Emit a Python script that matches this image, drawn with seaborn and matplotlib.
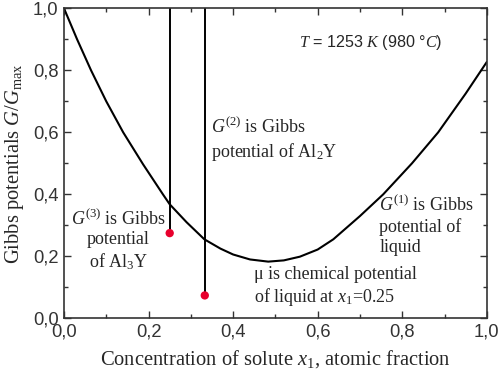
import seaborn as sns
import matplotlib.pyplot as plt
import matplotlib.ticker as mticker
import pandas as pd

# Gibbs potential of liquid
x_liquid = [0.0, 0.031, 0.064, 0.1, 0.14, 0.187, 0.234, 0.25, 0.29, 0.332, 0.37,
            0.40, 0.44, 0.483, 0.52, 0.558, 0.6, 0.637, 0.7, 0.755, 0.823, 0.885,
            0.95, 1.0]
g_liquid = [1.0, 0.9, 0.8, 0.70, 0.60, 0.497, 0.40, 0.368, 0.31, 0.255, 0.225,
            0.206, 0.19, 0.183, 0.187, 0.199, 0.222, 0.255, 0.33, 0.40, 0.50, 0.60,
            0.725, 0.827]

# intermetallic compounds (Al3Y, Al2Y)
x_compound = [0.25, 0.333]
g_compound = [0.275, 0.074]

df_liq = pd.DataFrame({"x": x_liquid, "g": g_liquid})
df_cmp = pd.DataFrame({"x": x_compound, "g": g_compound})

sns.set_style("ticks")
plt.rcParams["font.family"] = ["Liberation Serif", "DejaVu Serif"]
plt.rcParams["mathtext.fontset"] = "custom"
plt.rcParams["mathtext.rm"] = "Liberation Serif"
plt.rcParams["mathtext.it"] = "Liberation Serif:italic"
plt.rcParams["mathtext.bf"] = "Liberation Serif:bold"

fig = plt.figure(figsize=(4.98, 3.79), dpi=100)
ax = fig.add_axes([0.1285, 0.160, 0.849, 0.818])

sns.lineplot(data=df_liq, x="x", y="g", color="black", linewidth=1.5, ax=ax)
ax.vlines(df_cmp["x"], df_cmp["g"], 1.0, color="black", linewidth=1.4)
sns.scatterplot(data=df_cmp, x="x", y="g", color="#e8002d", s=36,
                edgecolor="none", zorder=5, ax=ax)

ax.set_xlim(0, 1)
ax.set_ylim(0, 1)
ax.xaxis.set_major_locator(mticker.MultipleLocator(0.2))
ax.yaxis.set_major_locator(mticker.MultipleLocator(0.2))
ax.xaxis.set_minor_locator(mticker.MultipleLocator(0.1))
ax.yaxis.set_minor_locator(mticker.MultipleLocator(0.1))
comma = mticker.FuncFormatter(lambda v, p: f"{v:.1f}".replace(".", ","))
ax.xaxis.set_major_formatter(comma)
ax.yaxis.set_major_formatter(comma)
ax.tick_params(which="both", direction="in", top=True, right=True,
               color="#333333", width=1.0)
ax.tick_params(which="major", length=5, labelsize=13.2, pad=4)
ax.tick_params(which="minor", length=3)
for lab in ax.get_xticklabels() + ax.get_yticklabels():
    lab.set_family(["Liberation Sans", "DejaVu Sans"])
    lab.set_color("#333333")
for sp in ax.spines.values():
    sp.set_visible(True)
    sp.set_linewidth(1.2)
    sp.set_color("#333333")

ax.set_xlabel("Concentration of solute $x_1$, atomic fraction", fontsize=14.8, labelpad=5)
ax.set_ylabel("Gibbs potentials $G/G_{\\mathrm{max}}$", fontsize=14.8, labelpad=5)

fs = 13
ax.text(0.557, 0.89, "$T$ = 1253 $K$ (980 °$C$)", fontsize=11.6,
        family=["Liberation Sans", "DejaVu Sans"], va="center", ha="left")
ax.text(0.348, 0.616, "$G^{(2)}$ is Gibbs", fontsize=fs, va="center", ha="left")
ax.text(0.348, 0.535, "potential of Al$_2$Y", fontsize=fs, va="center", ha="left")
ax.text(0.128, 0.252, "$G^{(3)}$ is Gibbs\npotential\nof Al$_3$Y", fontsize=fs,
        va="center", ha="center", multialignment="center", linespacing=1.2)
ax.text(0.746, 0.30, "$G^{(1)}$ is Gibbs\npotential of\nliquid", fontsize=fs,
        va="center", ha="left", linespacing=1.2)
ax.text(0.45, 0.10, "μ is chemical potential\nof liquid at $x_1$=0.25", fontsize=fs,
        va="center", ha="left", linespacing=1.2)

fig.savefig("out.png", dpi=100)
plt.close(fig)
